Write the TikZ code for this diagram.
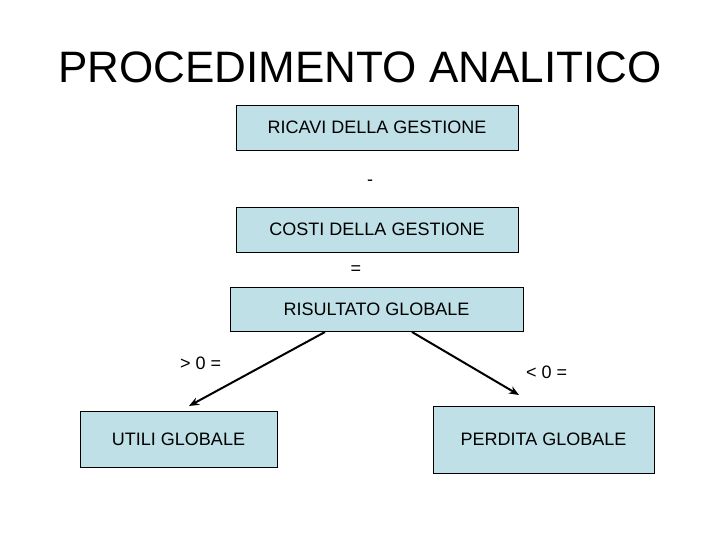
\documentclass[tikz,border=0pt]{standalone}
\usepackage{fontspec}
\setmainfont{Liberation Sans}
\usetikzlibrary{arrows.meta}
\definecolor{boxblue}{RGB}{190,224,230}
\tikzset{
  box/.style={draw=black, line width=0.8pt, fill=boxblue, font=\fontsize{18}{20}\selectfont, inner sep=0pt, anchor=center},
  lbl/.style={font=\fontsize{18}{20}\selectfont, inner sep=0pt},
  conn/.style={line width=2pt, -{Stealth[length=10pt,width=8pt]}}
}
\begin{document}
\begin{tikzpicture}[x=1pt,y=-1pt]
\useasboundingbox (0,0) rectangle (720,540);
\node[font=\fontsize{44}{48}\selectfont, inner sep=0pt] (title) at (360,67) {PROCEDIMENTO ANALITICO};
\node[box, minimum width=282pt, minimum height=45pt] (ricavi) at (377,127.5) {RICAVI DELLA GESTIONE};
\node[lbl] (minus) at (370,183) {-};
\node[box, minimum width=282pt, minimum height=45pt] (costi) at (377,229.5) {COSTI DELLA GESTIONE};
\node[lbl] (eq) at (356,270) {=};
\node[box, minimum width=293pt, minimum height=44pt] (ris) at (376.5,309) {RISULTATO GLOBALE};
\node[lbl, anchor=west] (gt) at (180,363) {> 0 =};
\node[lbl, anchor=west] (lt) at (526,372) {< 0 =};
\node[box, minimum width=197pt, minimum height=56pt] (utili) at (178.5,439) {UTILI GLOBALE};
\node[box, minimum width=221pt, minimum height=67pt] (perdita) at (543.5,439.5) {PERDITA GLOBALE};
\coordinate (s1) at (325,332);
\coordinate (e1) at (189,406);
\coordinate (s2) at (412,332);
\coordinate (e2) at (519,395);
\draw[conn] (s1) -- (e1);
\draw[conn] (s2) -- (e2);
\end{tikzpicture}
\end{document}
